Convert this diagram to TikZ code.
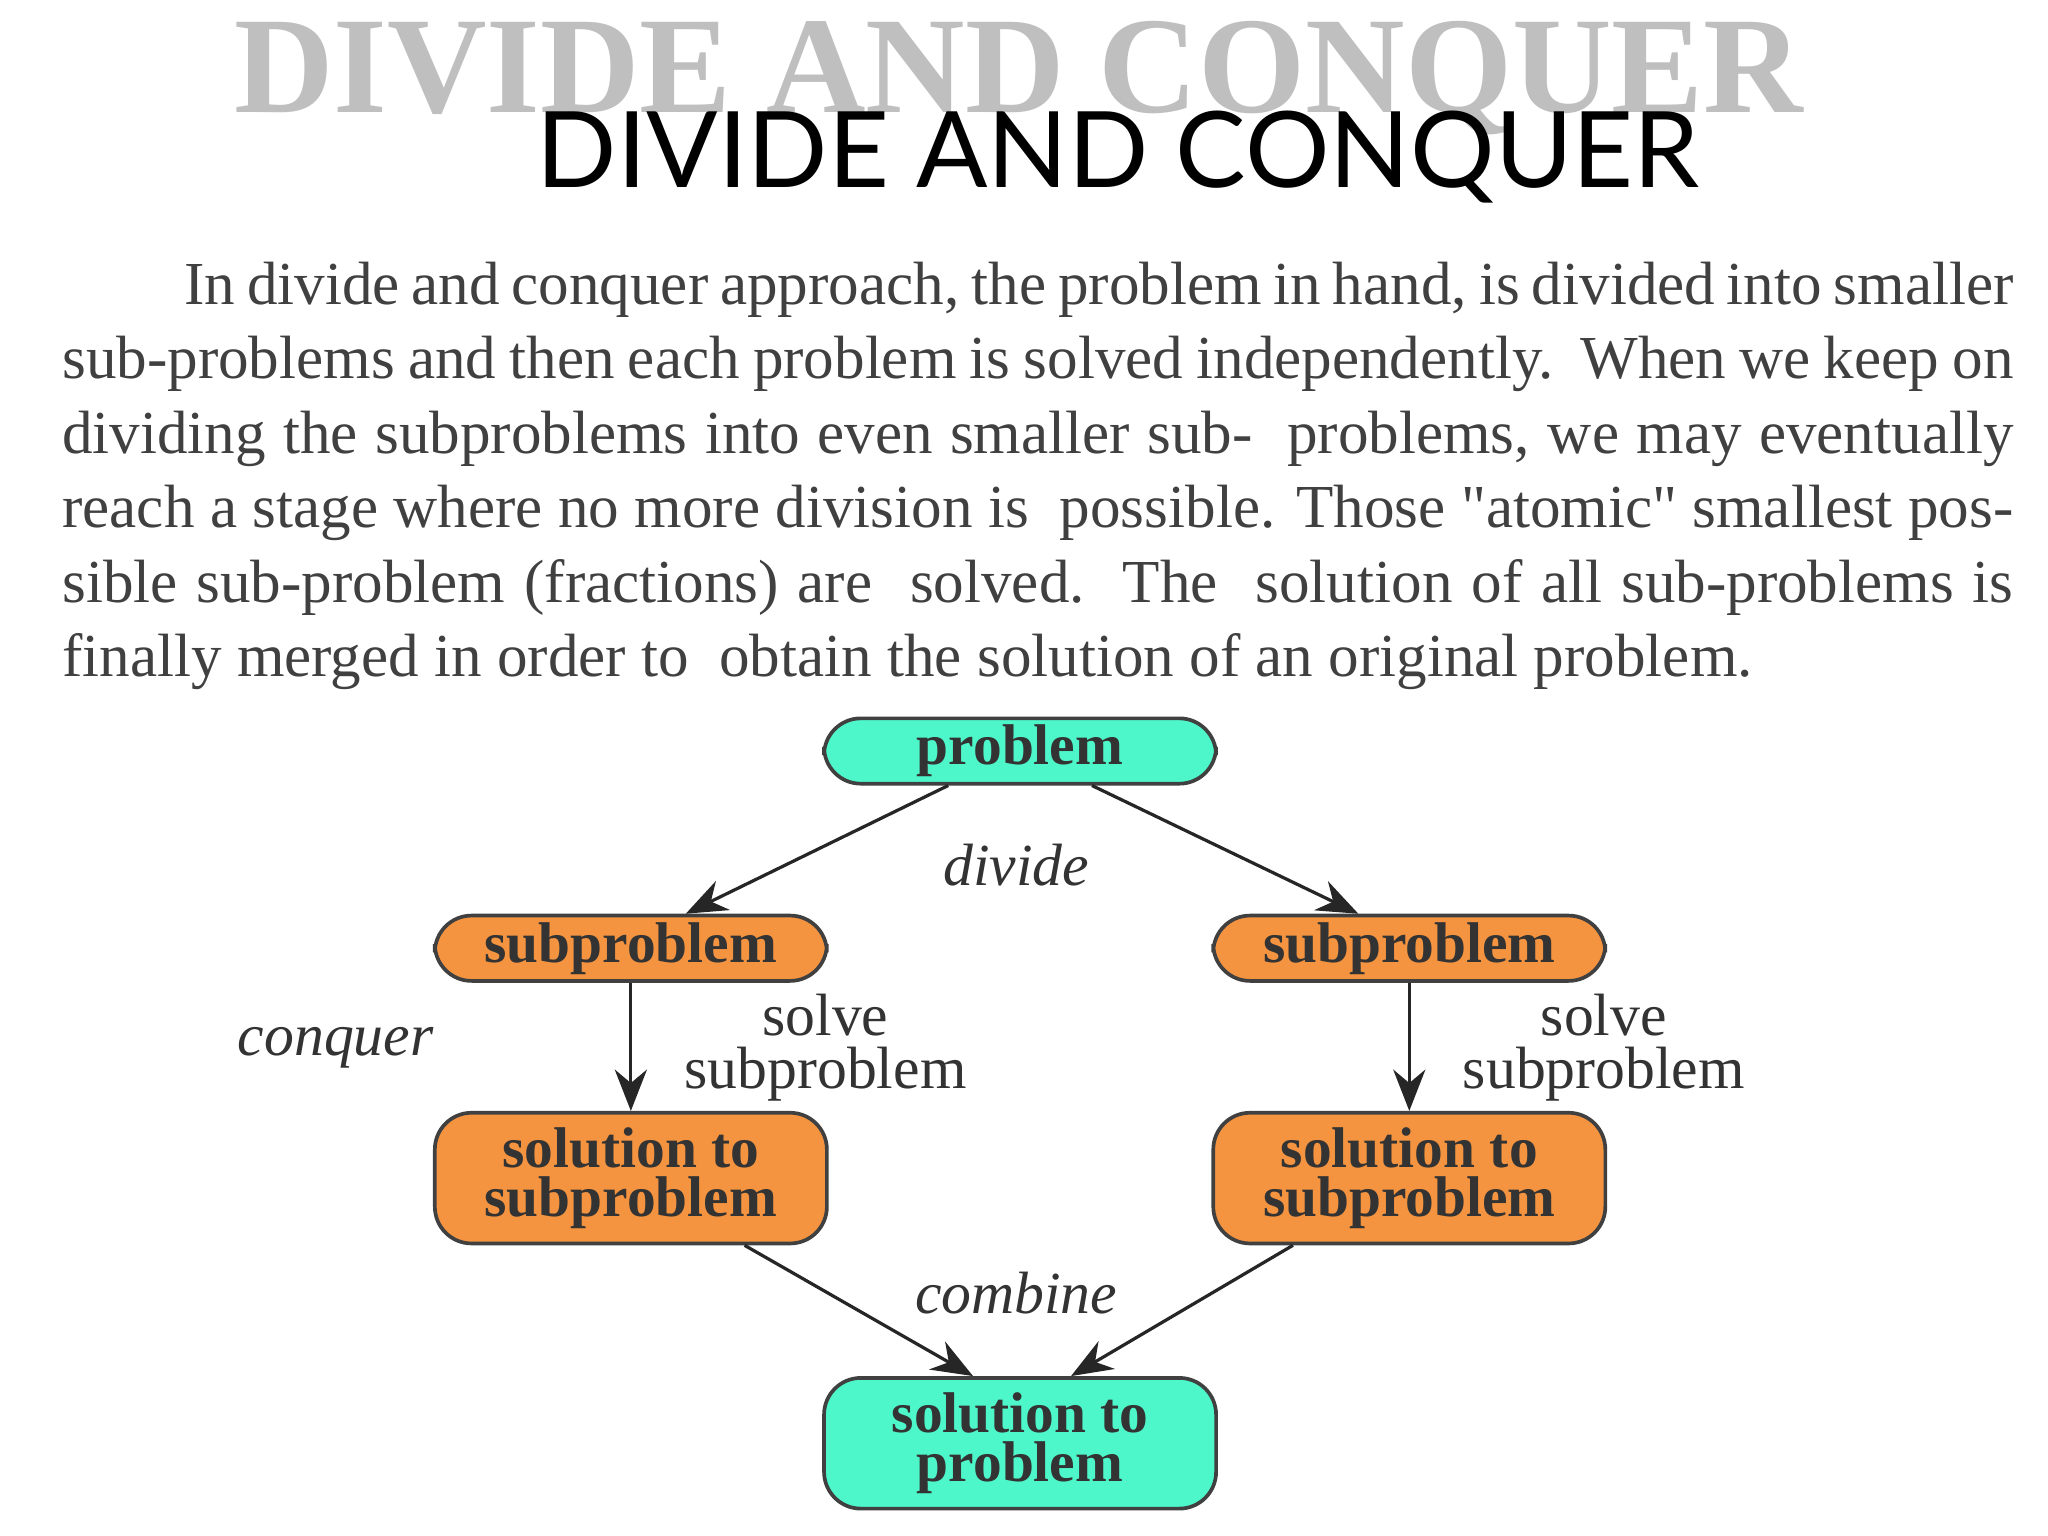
\documentclass[tikz,border=0pt]{standalone}
\usepackage{fontspec}
\setmainfont{Liberation Serif}
\newfontfamily\plainserif{Liberation Serif}
\newfontfamily\titlefont{Lato}
\usetikzlibrary{arrows.meta}
\definecolor{tealc}{HTML}{4DF7C9}
\definecolor{orangec}{HTML}{F59440}
\tikzset{
  box/.style={draw=black!75, line width=0.8pt, rounded corners=8pt, align=center, font=\fontsize{12.5}{10.5}\selectfont\bfseries\rmfamily, text=black!80, inner sep=0pt},
  tbox/.style={box, fill=tealc},
  obox/.style={box, fill=orangec},
  arr/.style={-{Stealth[length=9pt,width=7pt]}, line width=0.7pt, black!85},
  lab/.style={font=\fontsize{13}{13}\selectfont\itshape, text=black!80},
  slab/.style={font=\fontsize{13}{11.5}\selectfont, align=center, text=black!80}
}
\begin{document}
\begin{tikzpicture}[x=0.01cm,y=-0.01cm]
\useasboundingbox (0,0) rectangle (1568,1176);
\node[font=\fontsize{30}{32}\selectfont\bfseries, text=black!25] (ghost) at (780,60) {DIVIDE AND CONQUER};
\node[font=\titlefont\fontsize{23}{25}\selectfont] (title) at (856,120) {DIVIDE AND CONQUER};
\node[anchor=north west, inner sep=0pt, text width=14.93cm, align=justify, font=\plainserif\fontsize{13.3}{16.2}\selectfont, text=black!75] (body) at (47,200)
{\hspace*{2em}In divide and conquer approach, the problem in hand, is divided into smaller sub-problems and then each problem is solved independently.\ \ When we keep on dividing the subproblems into even smaller sub-\ \ problems, we may eventually reach a stage where no more division is\ \ possible. Those "atomic" smallest possible sub-problem (fractions) are\ \ solved.\ \ The\ \ solution of all sub-problems is finally merged in order to\ \ obtain the solution of an original problem.};
\fill[white] (180,552) rectangle (1370,1170);
\node[tbox, minimum width=3cm, minimum height=0.5cm] (p) at (781,575) {problem};
\node[obox, minimum width=3cm, minimum height=0.5cm] (sl) at (483,726) {subproblem};
\node[obox, minimum width=3cm, minimum height=0.5cm] (sr) at (1079,726) {subproblem};
\node[obox, minimum width=3cm, minimum height=1cm] (ol) at (483,902) {solution to\\subproblem};
\node[obox, minimum width=3cm, minimum height=1cm] (or) at (1079,902) {solution to\\subproblem};
\node[tbox, minimum width=3cm, minimum height=1cm] (f) at (781,1105) {solution to\\problem};
\node[lab] (ldiv) at (778,662) {divide};
\node[lab] (lcon) at (257,802) {conquer};
\node[lab] (lcom) at (778,990) {combine};
\node[slab] (lsl) at (632,802) {solve\\subproblem};
\node[slab] (lsr) at (1228,802) {solve\\subproblem};
\draw[arr] ([xshift=-0.55cm]p.south) -- ([xshift=0.42cm]sl.north);
\draw[arr] ([xshift=0.55cm]p.south) -- ([xshift=-0.39cm]sr.north);
\draw[arr] (sl) -- (ol);
\draw[arr] (sr) -- (or);
\draw[arr] ([xshift=0.87cm]ol.south) -- ([xshift=-0.36cm]f.north);
\draw[arr] ([xshift=-0.89cm]or.south) -- ([xshift=0.39cm]f.north);
\end{tikzpicture}
\end{document}
